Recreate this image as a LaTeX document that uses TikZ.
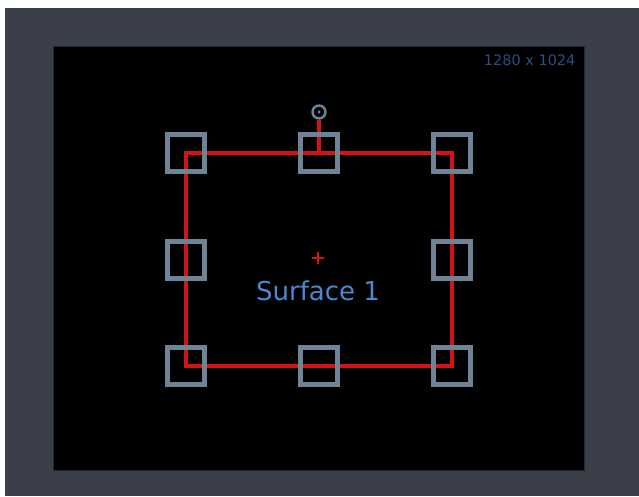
\documentclass[tikz,border=0pt]{standalone}
\usepackage{fontspec}
\setmainfont{DejaVu Sans}
\definecolor{bggray}{HTML}{3B3F4A}
\definecolor{handlegray}{HTML}{6E8496}
\definecolor{selred}{HTML}{D41414}
\definecolor{labelblue}{HTML}{4A88D0}
\definecolor{dimblue}{HTML}{2E4C80}
\definecolor{edgeblue}{HTML}{1C2A3E}
\begin{document}
\begin{tikzpicture}[x=1pt,y=-1pt,
  handlebox/.style={draw=handlegray,line width=4.2pt,minimum size=37pt,inner sep=0pt,fill=none},
  selline/.style={draw=selred,line width=3.4pt},
  rothandle/.style={circle,draw=handlegray,line width=2.4pt,minimum size=13pt,inner sep=0pt}]
\useasboundingbox (0,0) rectangle (639,496);
\fill[white] (0,0) rectangle (639,496);
\fill[bggray] (5,8) rectangle (639,496);
\fill[black,draw=edgeblue,line width=1pt] (53,46) rectangle (584,470);
\node[text=dimblue,font=\fontsize{14.5}{17}\selectfont,anchor=east] (res) at (579,60) {1280 x 1024};
% handle positions
\coordinate (ptl) at (186,153);
\coordinate (ptm) at (319,153);
\coordinate (ptr) at (452,153);
\coordinate (pml) at (186,260);
\coordinate (pmr) at (452,260);
\coordinate (pbl) at (186,366);
\coordinate (pbm) at (319,366);
\coordinate (pbr) at (452,366);
\node[rothandle] (rot) at (319,112) {};
\fill[handlegray] (rot.center) circle (1.6pt);
% selection outline
\draw[selline] (ptl) rectangle (pbr);
\draw[selline] (rot.south) -- (ptm);
% center cross
\node (ctr) at (318,258) {};
\draw[selred,line width=2.4pt] ([xshift=-6pt]ctr.center) -- ([xshift=6pt]ctr.center);
\draw[selred,line width=2.4pt] ([yshift=-6pt]ctr.center) -- ([yshift=6pt]ctr.center);
% handles
\node[handlebox] (htl) at (ptl) {};
\node[handlebox] (htm) at (ptm) {};
\node[handlebox] (htr) at (ptr) {};
\node[handlebox] (hml) at (pml) {};
\node[handlebox] (hmr) at (pmr) {};
\node[handlebox] (hbl) at (pbl) {};
\node[handlebox] (hbm) at (pbm) {};
\node[handlebox] (hbr) at (pbr) {};
\node[text=labelblue,font=\fontsize{26}{30}\selectfont] (lbl) at (318,291) {Surface 1};
\end{tikzpicture}
\end{document}
